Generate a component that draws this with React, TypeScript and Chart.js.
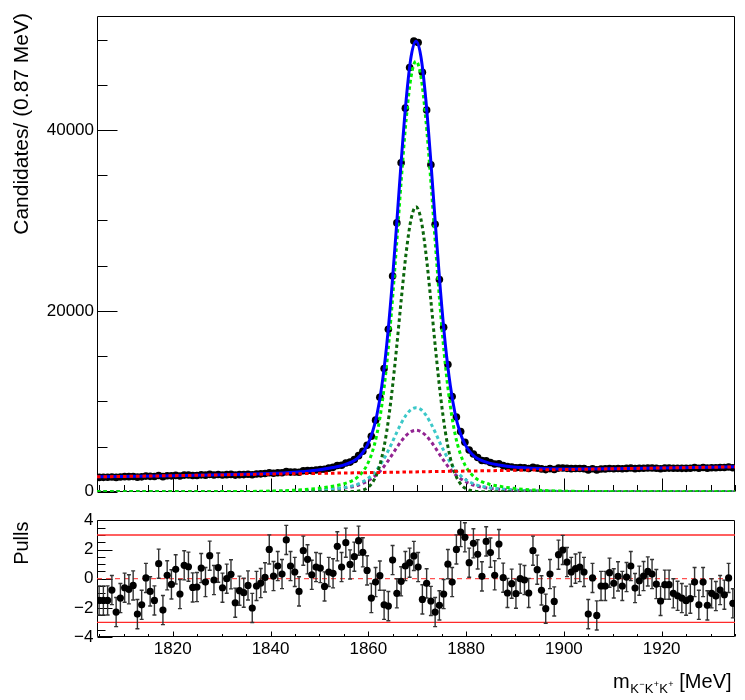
import { useEffect, useRef } from "react";
import { Chart, registerables } from "chart.js";

Chart.register(...registerables);

const FONT = "'Liberation Sans', Arial, Helvetica, sans-serif";

// ---- axis definitions ----
const X_MIN = 1804.5;
const X_MAX = 1935;
const BIN_WIDTH = 0.87;
const X_TICKS = [1820, 1840, 1860, 1880, 1900, 1920];
const Y_MAX_MAIN = 52600;
const Y_TICKS_MAIN = [0, 20000, 40000];
const Y_TICKS_PULL = [-4, -2, 0, 2, 4];

// ---- data (150 bins of 0.87 MeV) ----
const DATA_COUNTS = [
  1593, 1600, 1608, 1644, 1590, 1636, 1673, 1676, 1694, 1619,
  1654, 1737, 1706, 1688, 1800, 1675, 1782, 1763, 1814, 1752,
  1844, 1849, 1797, 1808, 1872, 1839, 1927, 1864, 1910, 1861,
  1898, 1921, 1848, 1896, 1903, 1937, 1881, 1962, 1985, 2015,
  2114, 2049, 2104, 2101, 2230, 2176, 2189, 2164, 2334, 2349,
  2340, 2414, 2468, 2488, 2615, 2703, 2904, 2932, 3177, 3285,
  3565, 3996, 4481, 5139, 6141, 7922, 10441, 13627, 17971, 23859,
  29727, 36363, 42414, 46900, 49826, 49665, 46377, 42205, 36157, 29570,
  23462, 18179, 14066, 10522, 8264, 6656, 5474, 4619, 4187, 3791,
  3466, 3432, 3247, 3072, 3102, 2898, 2779, 2746, 2667, 2689,
  2656, 2583, 2709, 2620, 2529, 2454, 2566, 2463, 2618, 2631,
  2592, 2559, 2571, 2578, 2562, 2419, 2547, 2419, 2525, 2529,
  2579, 2547, 2576, 2548, 2585, 2629, 2557, 2590, 2611, 2635,
  2630, 2601, 2549, 2613, 2620, 2598, 2596, 2595, 2593, 2607,
  2674, 2600, 2688, 2613, 2663, 2660, 2689, 2680, 2748, 2663,
];

const PULLS = [
  -1.49, -1.49, -1.49, -0.78, -2.29, -1.33, -0.62, -0.73, -0.46, -2.43,
  -1.79, 0.05, -0.87, -1.49, 1.03, -2.15, 0.23, -0.39, 0.64, -1.05,
  0.92, 0.82, -0.6, -0.57, 0.73, -0.23, 1.58, -0.09, 0.76, -0.62,
  0.0, 0.3, -1.65, -0.82, -0.96, -0.46, -2.01, -0.5, -0.3, 0.09,
  2.01, 0.18, 0.87, 0.32, 2.66, 0.87, 0.46, -0.87, 1.92, 1.33,
  0.27, 0.8, 0.73, -0.53, 0.46, 0.37, 2.22, 0.8, 2.47, 0.98,
  1.51, 2.61, 1.81, 0.57, -1.33, -0.23, 0.21, -1.79, -1.88, 1.28,
  -1.0, -0.18, 0.87, 1.1, 1.56, 0.8, -1.42, -0.32, -1.53, -2.29,
  -1.83, -1.05, 1.0, -0.23, 2.01, 3.2, 2.84, 1.1, 2.43, 1.67,
  0.16, 2.56, 1.79, 0.23, 2.38, 0.07, -0.98, -0.34, -1.03, 0.0,
  -0.09, -0.98, 1.92, 0.62, -0.8, -2.06, 0.32, -1.56, 1.65, 1.97,
  1.14, 0.46, 0.69, 0.8, 0.46, -2.43, 0.05, -2.52, -0.5, -0.5,
  0.41, -0.32, 0.16, -0.5, 0.11, 0.87, -0.64, -0.14, 0.18, 0.5,
  0.32, -0.37, -1.53, -0.41, -0.41, -1.0, -1.17, -1.33, -1.51, -1.37,
  -0.23, -1.79, -0.23, -1.83, -1.0, -1.19, -0.78, -1.1, 0.05, -1.69,
];

// ---- fit curves, sampled ----
const CURVE_X = [
  1804.5, 1819.75, 1829.75, 1839.75, 1844.75, 1849.75, 1852.75, 1854.75, 1856.75, 1857.75,
  1858.75, 1859.75, 1860.75, 1861.75, 1862.75, 1863.75, 1864.75, 1865.75, 1866.75, 1867.75,
  1868.75, 1869.75, 1870.75, 1871.75, 1872.75, 1873.75, 1874.75, 1875.75, 1876.75, 1877.75,
  1878.75, 1879.75, 1880.75, 1881.75, 1882.75, 1884.75, 1886.75, 1889.75, 1894.75, 1899.75,
  1909.75, 1919.75, 1935,
];
const TOTAL_PDF = [
  1650, 1779, 1882, 2024, 2161, 2414, 2679, 2916, 3333, 3691,
  4260, 5098, 6427, 8495, 11684, 16192, 22151, 29269, 36728, 43406,
  48115, 49803, 48131, 43440, 36778, 29337, 22235, 16294, 11802, 8631,
  6579, 5268, 4446, 3895, 3553, 3170, 2967, 2752, 2585, 2532,
  2560, 2627, 2756,
];
const SIGNAL_SUM = [
  0, 0, 18, 75, 170, 380, 620, 840, 1240, 1590,
  2150, 2980, 4300, 6360, 9540, 14040, 19990, 27100, 34550, 41220,
  45920, 47600, 45920, 41220, 34550, 27100, 19990, 14040, 9540, 6360,
  4300, 2980, 2150, 1590, 1240, 840, 620, 380, 170, 75,
  18, 0, 0,
];
const SIGNAL_NARROW = [
  0, 0, 0, 0, 0, 0, 0, 0, 20, 60,
  170, 420, 950, 1980, 3790, 6640, 10690, 15770, 21350, 26490,
  30170, 31500, 30170, 26490, 21350, 15770, 10690, 6640, 3790, 1980,
  950, 420, 170, 60, 20, 0, 0, 0, 0, 0,
  0, 0, 0,
];
const SIGNAL_WIDE_A = [
  0, 0, 10, 40, 90, 200, 330, 450, 660, 830,
  1080, 1400, 1850, 2450, 3250, 4200, 5300, 6500, 7600, 8500,
  9100, 9300, 9100, 8500, 7600, 6500, 5300, 4200, 3250, 2450,
  1850, 1400, 1080, 830, 660, 450, 330, 200, 90, 40,
  10, 0, 0,
];
const SIGNAL_WIDE_B = [
  0, 0, 8, 35, 80, 180, 290, 390, 560, 700,
  900, 1160, 1500, 1930, 2500, 3200, 4000, 4830, 5600, 6230,
  6650, 6800, 6650, 6230, 5600, 4830, 4000, 3200, 2500, 1930,
  1500, 1160, 900, 700, 560, 390, 290, 180, 80, 35,
  8, 0, 0,
];
const BKG_X = [1804.5, 1935];
const BKG_PDF = [1650, 2756];

// ---- helpers ----
const BIN_CENTERS = DATA_COUNTS.map((_, i) => X_MIN + BIN_WIDTH * (i + 0.5));

function steps(a: number, b: number, step: number): number[] {
  const out: number[] = [];
  for (let v = a; v <= b + 1e-9; v += step) out.push(Math.round(v * 1000) / 1000);
  return out;
}

function pts(xs: number[], ys: number[]) {
  return xs.map((x, i) => ({ x, y: ys[i] }));
}

const frameAndTicks = {
  id: "rootFrame",
  beforeDatasetsDraw(chart: any, _args: any, o: any) {
    const { ctx, chartArea: a } = chart;
    const sx = chart.scales.x;
    const sy = chart.scales.y;
    ctx.save();
    ctx.strokeStyle = "#000";
    ctx.lineWidth = 1;
    const L = Math.round(a.left) + 0.5;
    const R = Math.round(a.right) - 0.5;
    const T = Math.round(a.top) + 0.5;
    const B = Math.round(a.bottom) - 0.5;
    ctx.beginPath();
    ctx.rect(L, T, R - L, B - T);
    ctx.stroke();
    ctx.beginPath();
    for (const v of o.yMinor) {
      const major = o.yMajor.includes(v);
      const py = Math.round(sy.getPixelForValue(v)) + 0.5;
      if (py < a.top - 1 || py > a.bottom + 1) continue;
      ctx.moveTo(L, py);
      ctx.lineTo(L + (major ? o.yMajorLen : o.yMinorLen), py);
    }
    for (const v of o.xMinor) {
      if (v < X_MIN || v > X_MAX) continue;
      const major = o.xMajor.includes(v);
      const px = Math.round(sx.getPixelForValue(v)) + 0.5;
      ctx.moveTo(px, B);
      ctx.lineTo(px, B - (major ? o.xMajorLen : o.xMinorLen));
    }
    ctx.stroke();
    ctx.restore();
  },
};

function drawErrorBars(chart: any, xs: number[], ys: number[], errs: number[], cap: number, color: string, width: number) {
  const { ctx, chartArea: a } = chart;
  const sx = chart.scales.x;
  const sy = chart.scales.y;
  ctx.save();
  ctx.beginPath();
  ctx.rect(a.left, a.top, a.right - a.left, a.bottom - a.top);
  ctx.clip();
  ctx.strokeStyle = color;
  ctx.lineWidth = width;
  ctx.beginPath();
  xs.forEach((x, i) => {
    const px = sx.getPixelForValue(x);
    const p1 = sy.getPixelForValue(ys[i] - errs[i]);
    const p2 = sy.getPixelForValue(ys[i] + errs[i]);
    ctx.moveTo(px, p1);
    ctx.lineTo(px, p2);
    if (cap > 0) {
      ctx.moveTo(px - cap / 2, p1);
      ctx.lineTo(px + cap / 2, p1);
      ctx.moveTo(px - cap / 2, p2);
      ctx.lineTo(px + cap / 2, p2);
    }
  });
  ctx.stroke();
  ctx.restore();
}

const mainExtras = {
  id: "mainExtras",
  beforeDatasetsDraw(chart: any) {
    drawErrorBars(chart, BIN_CENTERS, DATA_COUNTS, DATA_COUNTS.map((v) => Math.sqrt(v)), 0, "#000", 1);
  },
  afterDraw(chart: any) {
    const { ctx } = chart;
    ctx.save();
    ctx.fillStyle = "#000";
    ctx.font = `21px ${FONT}`;
    ctx.translate(27.5, 13);
    ctx.rotate(-Math.PI / 2);
    ctx.textAlign = "right";
    ctx.textBaseline = "alphabetic";
    ctx.fillText("Candidates/ (0.87 MeV)", 0, 0);
    ctx.restore();
  },
};

const pullExtras = {
  id: "pullExtras",
  beforeDatasetsDraw(chart: any) {
    const { ctx, chartArea: a } = chart;
    const sy = chart.scales.y;
    ctx.save();
    ctx.strokeStyle = "#ff2a2a";
    ctx.lineWidth = 1.3;
    for (const v of [3, -3]) {
      const py = sy.getPixelForValue(v);
      ctx.beginPath();
      ctx.moveTo(a.left, py);
      ctx.lineTo(a.right, py);
      ctx.stroke();
    }
    ctx.strokeStyle = "#ff5050";
    ctx.setLineDash([5, 4]);
    const p0 = sy.getPixelForValue(0);
    ctx.beginPath();
    ctx.moveTo(a.left, p0);
    ctx.lineTo(a.right, p0);
    ctx.stroke();
    ctx.restore();
    drawErrorBars(chart, BIN_CENTERS, PULLS, PULLS.map(() => 1), 4, "#333", 1.4);
  },
  afterDraw(chart: any) {
    const { ctx } = chart;
    ctx.save();
    ctx.fillStyle = "#000";
    // y title
    ctx.save();
    ctx.font = `20px ${FONT}`;
    ctx.translate(27.5, 16.5);
    ctx.rotate(-Math.PI / 2);
    ctx.textAlign = "right";
    ctx.textBaseline = "alphabetic";
    ctx.fillText("Pulls", 0, 0);
    ctx.restore();
    // x title: m_{K^{-}K^{+}K^{+}} [MeV]
    ctx.textAlign = "left";
    ctx.textBaseline = "alphabetic";
    const base = 182.5;
    let x = 613;
    ctx.font = `20px ${FONT}`;
    ctx.fillText("m", x, base);
    x += ctx.measureText("m").width + 0.5;
    const parts: [string, string][] = [["K", "\u2212"], ["K", "+"], ["K", "+"]];
    for (const [k, s] of parts) {
      ctx.font = `13px ${FONT}`;
      ctx.fillText(k, x, base + 5.5);
      x += ctx.measureText(k).width + 0.3;
      ctx.font = `9px ${FONT}`;
      ctx.fillText(s, x, base - 0.5);
      x += ctx.measureText(s).width + 0.3;
    }
    ctx.font = `20px ${FONT}`;
    ctx.fillText(" [MeV]", x, base);
    ctx.restore();
  },
};

const dashed = (color: string) => ({
  borderColor: color,
  borderWidth: 3,
  borderDash: [3.5, 3],
  pointRadius: 0,
  fill: false,
  cubicInterpolationMode: "monotone" as const,
});

export default function App() {
  const topRef = useRef<HTMLCanvasElement | null>(null);
  const botRef = useRef<HTMLCanvasElement | null>(null);

  useEffect(() => {
    if (!topRef.current || !botRef.current) return;
    const tickFont = { family: FONT, size: 17 };

    const top = new Chart(topRef.current, {
      type: "line",
      data: {
        datasets: [
          { label: "Background", data: pts(BKG_X, BKG_PDF), ...dashed("#ff0000"), order: 1 } as any,
          {
            label: "Total",
            data: pts(CURVE_X, TOTAL_PDF),
            borderColor: "#0000ff",
            borderWidth: 3,
            pointRadius: 0,
            fill: false,
            cubicInterpolationMode: "monotone",
            order: 2,
          },
          { label: "Signal", data: pts(CURVE_X, SIGNAL_SUM), ...dashed("#00f000"), order: 3 } as any,
          { label: "Signal narrow", data: pts(CURVE_X, SIGNAL_NARROW), ...dashed("#0b660b"), order: 4 } as any,
          { label: "Signal wide A", data: pts(CURVE_X, SIGNAL_WIDE_A), ...dashed("#3cc8c8"), order: 5 } as any,
          { label: "Signal wide B", data: pts(CURVE_X, SIGNAL_WIDE_B), ...dashed("#922492"), order: 6 } as any,
          {
            label: "Data",
            data: pts(BIN_CENTERS, DATA_COUNTS),
            showLine: false,
            pointRadius: 3.8,
            pointBackgroundColor: "#000",
            pointBorderWidth: 0,
            order: 7,
          },
        ],
      },
      options: {
        animation: false,
        responsive: false,
        maintainAspectRatio: false,
        layout: { padding: { left: 0, right: 10, top: 16, bottom: 10.7 } },
        plugins: {
          legend: { display: false },
          tooltip: { enabled: false },
          rootFrame: {
            xMajor: X_TICKS,
            xMinor: steps(1805, 1935, 5),
            yMajor: Y_TICKS_MAIN,
            yMinor: steps(0, 50000, 5000),
            xMajorLen: 13,
            xMinorLen: 6.5,
            yMajorLen: 20,
            yMinorLen: 10,
          },
        } as any,
        scales: {
          x: { type: "linear", min: X_MIN, max: X_MAX, display: false },
          y: {
            type: "linear",
            min: 0,
            max: Y_MAX_MAIN,
            afterFit: (s: any) => {
              s.width = 97;
            },
            afterBuildTicks: (s: any) => {
              s.ticks = Y_TICKS_MAIN.map((v) => ({ value: v }));
            },
            grid: { display: false, drawTicks: false, tickLength: 0 },
            border: { display: false },
            ticks: { color: "#000", font: tickFont, padding: 3, callback: (v: any) => String(v) },
          },
        },
      },
      plugins: [frameAndTicks, mainExtras],
    });

    const bot = new Chart(botRef.current, {
      type: "line",
      data: {
        datasets: [
          {
            label: "Pulls",
            data: pts(BIN_CENTERS, PULLS),
            showLine: false,
            pointRadius: 3.6,
            pointBackgroundColor: "#000",
            pointBorderWidth: 0,
          },
        ],
      },
      options: {
        animation: false,
        responsive: false,
        maintainAspectRatio: false,
        layout: { padding: { left: 0, right: 10, top: 15.4, bottom: 0 } },
        plugins: {
          legend: { display: false },
          tooltip: { enabled: false },
          rootFrame: {
            xMajor: X_TICKS,
            xMinor: steps(1805, 1935, 5),
            yMajor: Y_TICKS_PULL,
            yMinor: steps(-4, 4, 0.5),
            xMajorLen: 5,
            xMinorLen: 2.5,
            yMajorLen: 15,
            yMinorLen: 8,
          },
        } as any,
        scales: {
          x: {
            type: "linear",
            min: X_MIN,
            max: X_MAX,
            afterFit: (s: any) => {
              s.height = 63;
            },
            afterBuildTicks: (s: any) => {
              s.ticks = X_TICKS.map((v) => ({ value: v }));
            },
            grid: { display: false, drawTicks: false, tickLength: 0 },
            border: { display: false },
            ticks: {
              color: "#000",
              font: tickFont,
              padding: 2,
              maxRotation: 0,
              autoSkip: false,
              callback: (v: any) => String(v),
            },
          },
          y: {
            type: "linear",
            min: -4,
            max: 4,
            afterFit: (s: any) => {
              s.width = 97;
            },
            afterBuildTicks: (s: any) => {
              s.ticks = Y_TICKS_PULL.map((v) => ({ value: v }));
            },
            grid: { display: false, drawTicks: false, tickLength: 0 },
            border: { display: false },
            ticks: {
              color: "#000",
              font: tickFont,
              padding: 3.5,
              callback: (v: any) => (v < 0 ? "\u2212" + Math.abs(v) : String(v)),
            },
          },
        },
      },
      plugins: [frameAndTicks, pullExtras],
    });

    return () => {
      top.destroy();
      bot.destroy();
    };
  }, []);

  return (
    <div style={{ position: "absolute", left: 0, top: 0, width: 745, height: 700, background: "#fff" }}>
      <canvas
        ref={topRef}
        width={745}
        height={505}
        style={{ position: "absolute", left: 0, top: 0, width: 745, height: 505, display: "block" }}
      />
      <canvas
        ref={botRef}
        width={745}
        height={195}
        style={{ position: "absolute", left: 0, top: 505, width: 745, height: 195, display: "block" }}
      />
    </div>
  );
}
